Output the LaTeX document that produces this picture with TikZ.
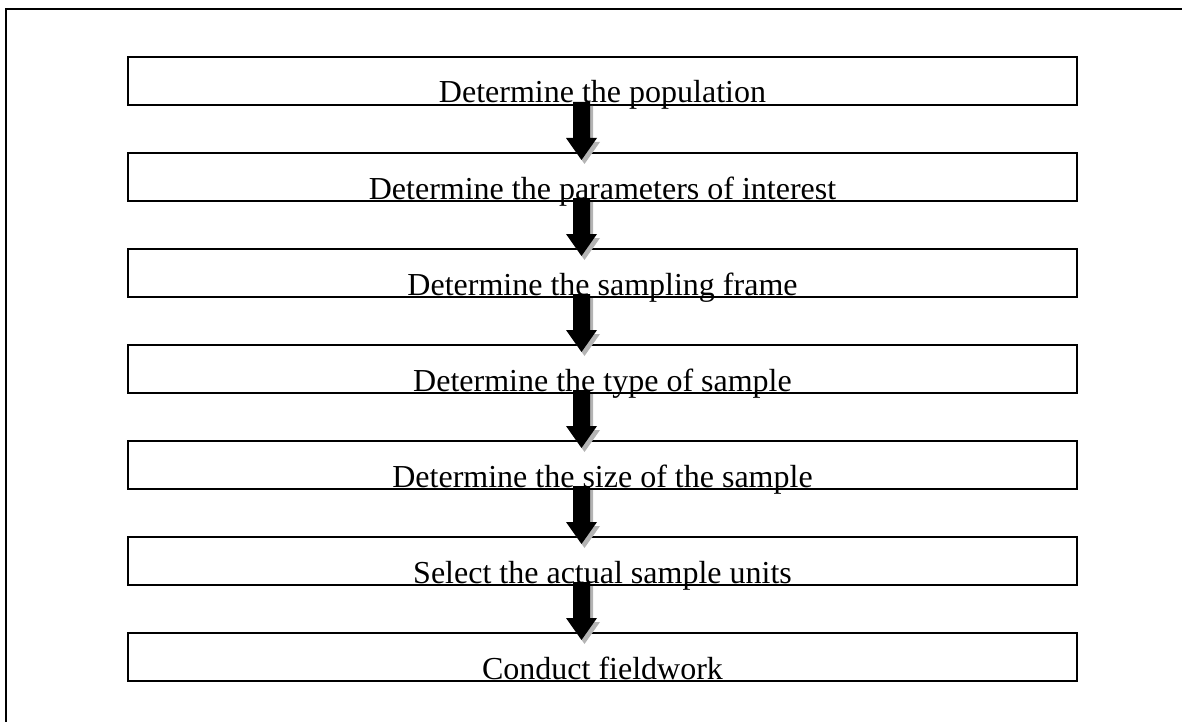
\documentclass[tikz,border=0pt]{standalone}
\usepackage{fontspec}
\setmainfont{Liberation Serif}
\usepackage{tikz}
\usetikzlibrary{positioning,calc}
\definecolor{Ink}{HTML}{000000}
\definecolor{Shade}{HTML}{B4B4B4}

% block arrow from start coordinate #2 down to tip #3
\newcommand{\blkarrow}[3]{%
  \fill[#1] ($(#2)+(-8.5pt,0)$) -- ($(#3)+(-8.5pt,22pt)$) -- ($(#3)+(-15.5pt,22pt)$)
    -- (#3) -- ($(#3)+(15.5pt,22pt)$) -- ($(#3)+(8.5pt,22pt)$) -- ($(#2)+(8.5pt,0)$) -- cycle;}

\begin{document}
\begin{tikzpicture}[x=1pt,y=-1pt,
    stepbox/.style={draw=Ink,line width=1.8pt,minimum width=949pt,minimum height=48pt,
      inner sep=0pt,outer sep=0pt,text height=46pt,text depth=2pt,
      font=\fontsize{32}{36}\selectfont}]
  \useasboundingbox (0,0) rectangle (1182,722);
  \draw[Ink,line width=1.8pt] (1182,9) -- (6,9) -- (6,722);

  \node[stepbox] (b1) at (602.5,81) {Determine the population};
  \node[stepbox,below=48pt of b1] (b2) {Determine the parameters of interest};
  \node[stepbox,below=48pt of b2] (b3) {Determine the sampling frame};
  \node[stepbox,below=48pt of b3] (b4) {Determine the type of sample};
  \node[stepbox,below=48pt of b4] (b5) {Determine the size of the sample};
  \node[stepbox,below=48pt of b5] (b6) {Select the actual sample units};
  \node[stepbox,below=48pt of b6] (b7) {Conduct fieldwork};

  \foreach \i/\j in {1/2,2/3,3/4,4/5,5/6,6/7} {
    \coordinate (s\i) at ($(b\i.south)+(-21pt,3pt)$);
    \coordinate (t\i) at ($(b\j.north)+(-21pt,-7pt)$);
    \coordinate (ss\i) at ($(s\i)+(3pt,-4pt)$);
    \coordinate (st\i) at ($(t\i)+(3pt,-4pt)$);
    \blkarrow{Shade}{ss\i}{st\i}
    \blkarrow{Ink}{s\i}{t\i}
  }
\end{tikzpicture}
\end{document}
